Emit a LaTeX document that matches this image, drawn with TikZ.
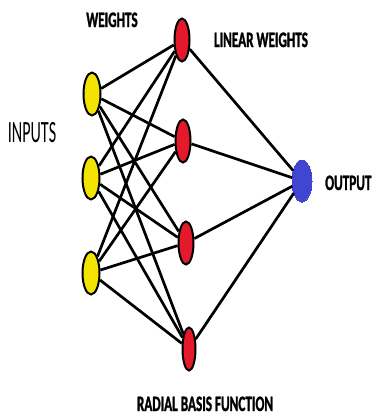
\documentclass[tikz,border=0pt]{standalone}
\usepackage{fontspec}
\newfontfamily\lblfont[FakeStretch=0.6,FakeBold=1.2]{Carlito}
\newfontfamily\inpfont[FakeStretch=0.52]{Carlito}
\usetikzlibrary{shapes.geometric}
\definecolor{inyellow}{HTML}{F2E400}
\definecolor{rbfred}{HTML}{E4192B}
\definecolor{outblue}{HTML}{4146D2}
\begin{document}
\begin{tikzpicture}[
    x=1pt, y=-1pt,
    unit/.style={ellipse, draw=black, line width=2pt, inner sep=0pt, minimum width=17pt, minimum height=43pt, fill=#1},
    unit/.default=inyellow,
    link/.style={line width=2.7pt, black},
    lbl/.style={anchor=base, inner sep=0pt, font=\lblfont\bfseries\fontsize{22}{22}\selectfont}
]
\useasboundingbox[fill=white] (0,0) rectangle (373,416);

% Input layer
\node[unit=inyellow] (in1) at (92,94) {};
\node[unit=inyellow] (in2) at (91,178) {};
\node[unit=inyellow] (in3) at (91,273) {};

% Radial basis layer
\node[unit=rbfred, minimum width=15pt] (rb1) at (182,40) {};
\node[unit=rbfred, minimum width=15pt] (rb2) at (183,141) {};
\node[unit=rbfred, minimum width=15pt] (rb3) at (186,243) {};
\node[unit=rbfred, minimum width=13pt] (rb4) at (189,349) {};

% Output
\node[unit=outblue, draw=outblue, line width=0pt, minimum width=20pt, minimum height=42pt] (out) at (302,181) {};

% Labels
\node[lbl] (wlbl) at (112,27) {WEIGHTS};
\node[lbl] (lwlbl) at (261,47) {LINEAR WEIGHTS};
\node[anchor=base, inner sep=0pt, font=\inpfont\fontsize{31}{31}\selectfont] (inlbl) at (32,142) {INPUTS};
\node[lbl, anchor=base west] (outlbl) at (325,190) {OUTPUT};
\node[lbl] (rblbl) at (205,411) {RADIAL BASIS FUNCTION};

% Input to radial basis
\draw[link] (in1) -- (rb1); \draw[link] (in1) -- (rb2); \draw[link] (in1) -- (rb3); \draw[link] (in1) -- (rb4);
\draw[link] (in2) -- (rb1); \draw[link] (in2) -- (rb2); \draw[link] (in2) -- (rb3); \draw[link] (in2) -- (rb4);
\draw[link] (in3) -- (rb1); \draw[link] (in3) -- (rb2); \draw[link] (in3) -- (rb3); \draw[link] (in3) -- (rb4);

% Radial basis to output
\draw[link] (rb1) -- (out);
\draw[link] (rb2) -- (out);
\draw[link] (rb3) -- (out);
\draw[link] (rb4) -- (out);
\end{tikzpicture}
\end{document}
